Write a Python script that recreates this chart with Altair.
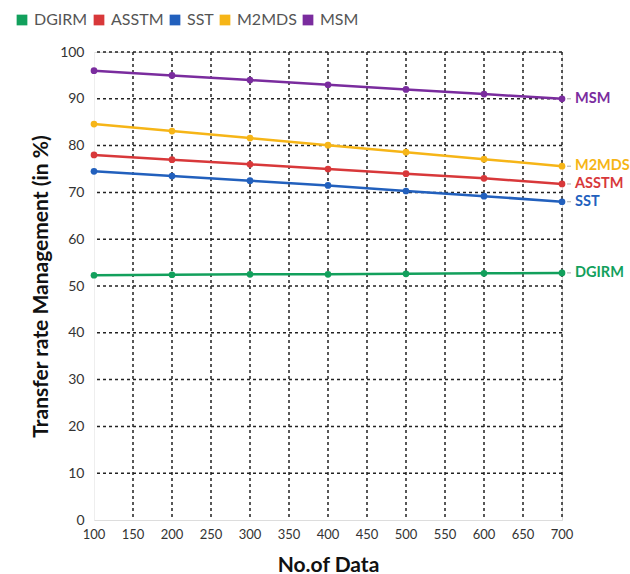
import altair as alt
import pandas as pd

x_vals = [100, 200, 300, 400, 500, 600, 700]
series = ["DGIRM", "ASSTM", "SST", "M2MDS", "MSM"]
colors = ["#12a05c", "#d8383a", "#2260bd", "#f6b517", "#7a2c9e"]
dgirm = [52.3, 52.4, 52.5, 52.5, 52.6, 52.7, 52.8]
asstm = [78.0, 77.0, 76.0, 75.0, 74.0, 73.0, 71.8]
sst = [74.5, 73.5, 72.5, 71.5, 70.3, 69.2, 68.0]
m2mds = [84.6, 83.1, 81.6, 80.1, 78.6, 77.1, 75.6]
msm = [96.0, 95.0, 94.0, 93.0, 92.0, 91.0, 90.0]
x_ticks = list(range(100, 701, 50))
y_ticks = list(range(0, 101, 10))

vals = {"DGIRM": dgirm, "ASSTM": asstm, "SST": sst, "M2MDS": m2mds, "MSM": msm}
rows = []
for s in series:
    for x, v in zip(x_vals, vals[s]):
        rows.append({"x": x, "y": v, "series": s})
df = pd.DataFrame(rows)
last = df[df["x"] == 700]

FONT = "Lato"
color_scale = alt.Scale(domain=series, range=colors)
xs = alt.Scale(domain=[100, 700], nice=False)
ys = alt.Scale(domain=[0, 100], nice=False)

xaxis = alt.Axis(values=x_ticks, title="No.of Data", labels=False,
                 grid=False, ticks=False, domain=True, domainColor="#dddddd",
                 titleFontSize=21, titleFontWeight="bold", titleColor="#111111",
                 titlePadding=34, titleFont=FONT)
yaxis = alt.Axis(values=y_ticks, title="Transfer rate Management (in %)", labelOverlap=False,
                 grid=False, ticks=False, domain=True, domainColor="#eeeeee",
                 labelFontSize=14, labelColor="#333333", labelPadding=10,
                 titleFontSize=21, titleFontWeight="bold", titleColor="#111111",
                 titlePadding=8, labelFont=FONT, titleFont=FONT)

gx = pd.DataFrame({"x": x_ticks[1:]})
gy = pd.DataFrame({"y": y_ticks[1:]})
xl = pd.DataFrame({"x": x_ticks, "lab": [str(v) for v in x_ticks]})

vgrid = alt.Chart(gx).mark_rule(color="#222222", strokeDash=[3, 3], strokeWidth=1.5).encode(
    x=alt.X("x:Q", scale=xs, axis=xaxis))
hgrid = alt.Chart(gy).mark_rule(color="#222222", strokeDash=[3, 3], strokeWidth=1.5).encode(
    y=alt.Y("y:Q", scale=ys, axis=yaxis))
xlabels = alt.Chart(xl).mark_text(fontSize=13, color="#333333", font=FONT,
                                  baseline="middle", align="center").encode(
    x=alt.X("x:Q", scale=xs, axis=xaxis), y=alt.value(483), text="lab:N")

lines = alt.Chart(df).mark_line(strokeWidth=2.5).encode(
    x=alt.X("x:Q", scale=xs, axis=xaxis), y=alt.Y("y:Q", scale=ys, axis=yaxis),
    color=alt.Color("series:N", scale=color_scale, sort=series,
                    legend=alt.Legend(title=None, orient="none", legendX=-80, legendY=-40,
                                      direction="horizontal", symbolType="square",
                                      symbolSize=115, symbolStrokeWidth=0, symbolOpacity=1,
                                      labelFontSize=16, labelColor="#555555", labelFont=FONT,
                                      columnPadding=3, labelOffset=4)))
points = alt.Chart(df).mark_point(filled=True, size=45, opacity=1).encode(
    x="x:Q", y="y:Q", color=alt.Color("series:N", scale=color_scale, legend=None))

dash = alt.Chart(last).mark_rule(color="#aaaaaa", strokeWidth=1, xOffset=5, x2Offset=9).encode(
    x="x:Q", x2="x:Q", y="y:Q")
labels = alt.Chart(last).mark_text(align="left", baseline="middle", dx=13, fontSize=14.5,
                                   fontWeight="bold", font=FONT).encode(
    x="x:Q", y="y:Q", text="series:N",
    color=alt.Color("series:N", scale=color_scale, legend=None))

chart = alt.layer(hgrid, vgrid, lines, points, dash, labels, xlabels).properties(
    width=468, height=468,
    autosize=alt.AutoSizeParams(type="none"),
    padding={"left": 94, "top": 52, "right": 68, "bottom": 54},
).configure_view(stroke=None).configure(font=FONT)

chart.save("out.html", embed_options={"renderer": "svg", "actions": False})
